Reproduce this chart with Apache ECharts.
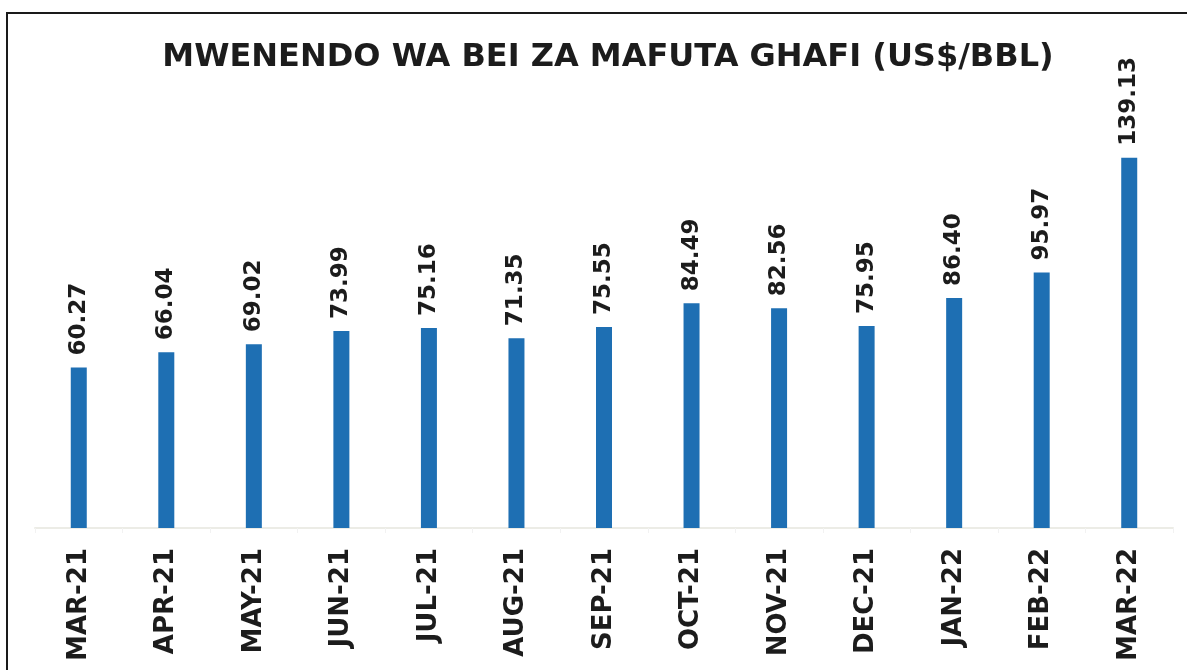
<!DOCTYPE html>
<html>
<head>
<meta charset="utf-8">
<script src="https://cdn.jsdelivr.net/npm/echarts@6/dist/echarts.min.js"></script>
<style>
html,body{margin:0;padding:0;background:#fff;}
#oilbar{width:1187px;height:670px;}
</style>
</head>
<body>
<div id="oilbar"></div>
<script>
var months = ['MAR-21','APR-21','MAY-21','JUN-21','JUL-21','AUG-21','SEP-21','OCT-21','NOV-21','DEC-21','JAN-22','FEB-22','MAR-22'];
var prices = [60.27, 66.04, 69.02, 73.99, 75.16, 71.35, 75.55, 84.49, 82.56, 75.95, 86.40, 95.97, 139.13];

var myChartO = echarts.init(document.getElementById('oilbar'));
var option = {
	animation : false,
	title : {
		text : 'MWENENDO WA BEI ZA MAFUTA GHAFI (US$/BBL)',
		left : 603,
		textAlign : 'center',
		top : 37,
		textStyle : {
			color : '#1c1c1c',
			fontFamily : 'DejaVu Sans',
			fontWeight : 'bold',
			fontSize : 32
		}
	},
	// frame of the scanned page
	graphic : [{
		type : 'rect',
		shape : { x : 7, y : 13, width : 1220, height : 700 },
		style : { fill : 'transparent', stroke : '#1a1a1a', lineWidth : 2 },
		silent : true
	}],
	grid : {
		left : 35,
		right : 14,
		top : 49,
		bottom : 142
	},
	xAxis : [{
		type : 'category',
		data : months,
		axisLine : {
			lineStyle : { color : '#ecece6', width : 2 }
		},
		axisTick : {
			show : true,
			length : 5,
			lineStyle : { color : '#f2f2f2' }
		},
		axisLabel : {
			rotate : 90,
			margin : 20,
			color : '#1c1c1c',
			fontFamily : 'DejaVu Sans',
			fontWeight : 'bold',
			fontSize : 26
		}
	}],
	yAxis : [{
		type : 'value',
		min : 0,
		max : 180,
		show : false,
		splitLine : { show : false }
	}],
	series : [{
		type : 'bar',
		data : prices,
		barWidth : 16,
		itemStyle : { color : '#1e6fb3' },
		label : {
			show : true,
			position : 'top',
			distance : 12,
			rotate : 90,
			align : 'left',
			verticalAlign : 'middle',
			color : '#1c1c1c',
			fontFamily : 'DejaVu Sans',
			fontWeight : 'bold',
			fontSize : 23,
			formatter : function (p) { return p.value.toFixed(2); }
		}
	}]
};
myChartO.setOption(option, true);
</script>
</body>
</html>
